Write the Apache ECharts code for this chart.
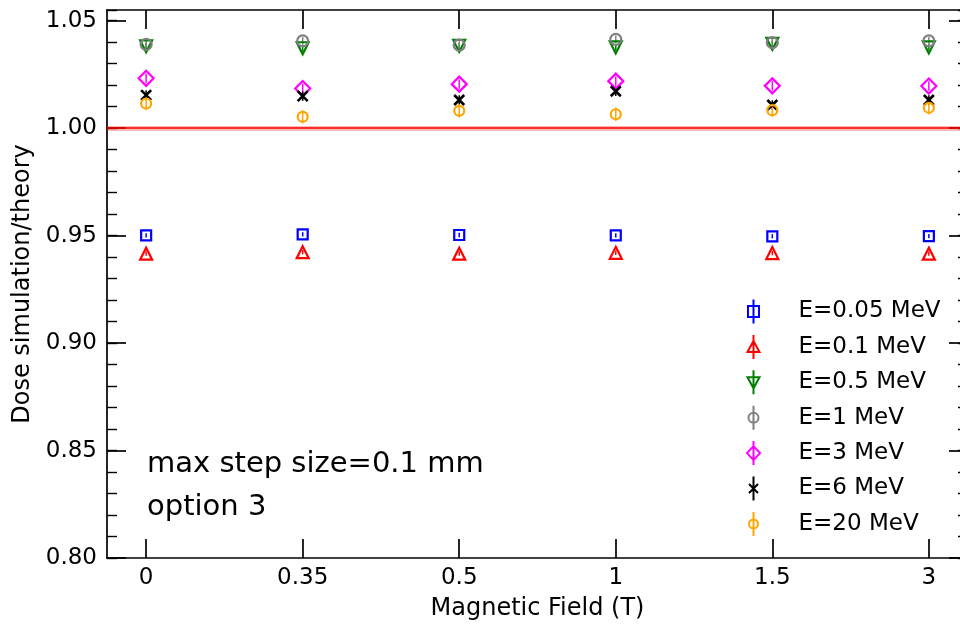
<!DOCTYPE html>
<html>
<head>
<meta charset="utf-8">
<script src="https://cdn.jsdelivr.net/npm/echarts@6/dist/echarts.min.js"></script>
<style>
  html, body { margin: 0; padding: 0; background: #fff; }
  #chart { width: 960px; height: 628px; }
</style>
</head>
<body>
<div id="chart"></div>
<script>
// Magnetic field settings (T), drawn as evenly spaced positions
const fieldLabels = ['0', '0.35', '0.5', '1', '1.5', '3'];

// Dose ratio simulation/theory for each beam energy
const doseE005 = [0.9501, 0.9506, 0.9503, 0.9501, 0.9497, 0.9498];
const doseE01  = [0.9416, 0.9423, 0.9416, 0.9420, 0.9419, 0.9416];
const doseE05  = [1.0381, 1.0372, 1.0383, 1.0376, 1.0393, 1.0376];
const doseE1   = [1.0390, 1.0406, 1.0387, 1.0413, 1.0398, 1.0406];
const doseE3   = [1.0232, 1.0185, 1.0205, 1.0219, 1.0197, 1.0196];
const doseE6   = [1.0154, 1.0149, 1.0131, 1.0172, 1.0108, 1.0131];
const doseE20  = [1.0115, 1.0053, 1.0081, 1.0065, 1.0084, 1.0095];

// Statistical uncertainty (half-length of error bar)
const errE005 = [0.0010, 0.0010, 0.0010, 0.0010, 0.0010, 0.0010];
const errE01  = [0.0010, 0.0010, 0.0010, 0.0010, 0.0010, 0.0010];
const errE05  = [0.0015, 0.0015, 0.0015, 0.0015, 0.0015, 0.0015];
const errE1   = [0.0018, 0.0018, 0.0018, 0.0018, 0.0018, 0.0018];
const errE3   = [0.0022, 0.0022, 0.0022, 0.0022, 0.0022, 0.0022];
const errE6   = [0.0022, 0.0022, 0.0022, 0.0022, 0.0022, 0.0022];
const errE20  = [0.0031, 0.0031, 0.0031, 0.0031, 0.0031, 0.0031];

const seriesNames = ['E=0.05 MeV', 'E=0.1 MeV', 'E=0.5 MeV', 'E=1 MeV', 'E=3 MeV', 'E=6 MeV', 'E=20 MeV'];
const referenceRatio = 1.0;
const yTicks = [0.80, 0.85, 0.90, 0.95, 1.00, 1.05];
const noteLines = ['max step size=0.1 mm', 'option 3'];

const FONT = '"DejaVu Sans", sans-serif';

const xPath = 'path://M0 0L10 10M10 0L0 10';
const styles = [
  { color: '#0000ff', symbol: 'rect', size: 10,
    icon: 'path://M0 0M14 24M1.5 6.5L12.5 6.5L12.5 17.5L1.5 17.5Z M7 0L7 24' },
  { color: '#ff0000', symbol: 'triangle', size: 12, rotate: 0,
    icon: 'path://M0 0M14 24M7 6L13 17L1 17Z M7 0L7 24' },
  { color: '#008000', symbol: 'triangle', size: 12, rotate: 180,
    icon: 'path://M0 0M14 24M1 7L13 7L7 18Z M7 0L7 24' },
  { color: '#808080', symbol: 'circle', size: 11,
    icon: 'path://M0 0M14 24M2 12A5 5 0 1 1 12 12A5 5 0 1 1 2 12Z M7 0L7 24' },
  { color: '#ff00ff', symbol: 'diamond', size: 15,
    icon: 'path://M0 0M14 24M7 5L13.5 12L7 19L0.5 12Z M7 0L7 24' },
  { color: '#000000', symbol: xPath, size: 10,
    icon: 'path://M0 0M14 24M2.5 7.5L11.5 16.5M11.5 7.5L2.5 16.5 M7 0L7 24' },
  { color: '#ffa500', symbol: 'circle', size: 10,
    icon: 'path://M0 0M14 24M2.5 12A4.5 4.5 0 1 1 11.5 12A4.5 4.5 0 1 1 2.5 12Z M7 0L7 24' }
];

const values = [doseE005, doseE01, doseE05, doseE1, doseE3, doseE6, doseE20];
const errors = [errE005, errE01, errE05, errE1, errE3, errE6, errE20];

const series = [];
values.forEach((vals, k) => {
  const st = styles[k];
  // error bars
  series.push({
    type: 'custom',
    name: seriesNames[k],
    xAxisIndex: 0, yAxisIndex: 0,
    silent: true,
    data: vals.map((v, i) => [i, v - errors[k][i], v + errors[k][i]]),
    renderItem: (params, api) => {
      const p0 = api.coord([api.value(0), api.value(1)]);
      const p1 = api.coord([api.value(0), api.value(2)]);
      return {
        type: 'line',
        shape: { x1: p0[0], y1: p0[1], x2: p1[0], y2: p1[1] },
        style: { stroke: st.color, lineWidth: 1.5 }
      };
    }
  });
  // markers
  const s = {
    type: 'scatter',
    name: seriesNames[k],
    xAxisIndex: 0, yAxisIndex: 0,
    symbol: st.symbol,
    symbolSize: st.size,
    symbolRotate: st.rotate || 0,
    itemStyle: { color: 'none', opacity: 1, borderColor: st.color,
                 borderWidth: st.symbol === xPath ? 2.6 : 2.2 },
    emphasis: { disabled: true },
    data: vals.map((v, i) => [i, v])
  };
  if (k === 0) {
    s.markLine = {
      silent: true,
      symbol: 'none',
      label: { show: false },
      data: [
        { yAxis: referenceRatio, lineStyle: { color: 'rgba(255,0,0,0.28)', width: 5, type: 'solid' } },
        { yAxis: referenceRatio, lineStyle: { color: '#ff0000', width: 1.5, type: 'solid' } }
      ]
    };
  }
  series.push(s);
});

const xCommon = {
  type: 'value', min: -0.25, max: 5.25,
  splitLine: { show: false },
  axisLine: { show: true, onZero: false, lineStyle: { color: '#000', width: 1.7 } }
};

const yCommon = {
  type: 'value', min: 0.80, max: 1.055,
  splitLine: { show: false }
};

const option = {
  animation: false,
  backgroundColor: '#fff',
  grid: { left: 107, top: 10, width: 861, height: 548, containLabel: false, outerBoundsMode: 'none' },
  xAxis: [
    Object.assign({}, xCommon, {
      position: 'bottom',
      name: 'Magnetic Field (T)',
      nameLocation: 'middle',
      nameGap: 39,
      nameTextStyle: { fontFamily: FONT, fontSize: 24, color: '#000' },
      axisTick: { show: true, inside: true, length: 19, customValues: [0, 1, 2, 3, 4, 5],
                  lineStyle: { color: '#000', width: 1.7 } },
      axisLabel: { show: true, customValues: [0, 1, 2, 3, 4, 5], margin: 9,
                   fontFamily: FONT, fontSize: 23, color: '#000',
                   formatter: v => fieldLabels[Math.round(v)] }
    }),
    Object.assign({}, xCommon, {
      position: 'top',
      axisTick: { show: true, inside: true, length: 19, customValues: [0, 1, 2, 3, 4, 5],
                  lineStyle: { color: '#000', width: 1.7 } },
      axisLabel: { show: false }
    })
  ],
  yAxis: [
    Object.assign({}, yCommon, {
      position: 'left',
      interval: 0.05,
      name: 'Dose simulation/theory',
      nameLocation: 'middle',
      nameGap: 72,
      nameTextStyle: { fontFamily: FONT, fontSize: 24, color: '#000' },
      axisLine: { show: true, onZero: false, lineStyle: { color: '#000', width: 1.7 } },
      axisTick: { show: true, inside: true, length: 19, customValues: yTicks,
                  lineStyle: { color: '#000', width: 1.7 } },
      axisLabel: { show: true, customValues: yTicks, margin: 10,
                   fontFamily: FONT, fontSize: 23, color: '#000',
                   formatter: v => v.toFixed(2) }
    }),
    Object.assign({}, yCommon, {
      position: 'left',
      interval: 0.01,
      axisLine: { show: false, onZero: false },
      axisTick: { show: true, inside: true, length: 10, lineStyle: { color: '#000', width: 1.4 } },
      axisLabel: { show: false }
    }),
    Object.assign({}, yCommon, {
      position: 'right',
      interval: 0.05,
      axisLine: { show: true, onZero: false, lineStyle: { color: '#000', width: 1.7 } },
      axisTick: { show: true, inside: true, length: 19, customValues: yTicks,
                  lineStyle: { color: '#000', width: 1.7 } },
      axisLabel: { show: false }
    }),
    Object.assign({}, yCommon, {
      position: 'right',
      interval: 0.01,
      axisLine: { show: false, onZero: false },
      axisTick: { show: true, inside: true, length: 10, lineStyle: { color: '#000', width: 1.4 } },
      axisLabel: { show: false }
    })
  ],
  legend: {
    orient: 'vertical',
    left: 739,
    top: 292,
    itemWidth: 14,
    itemHeight: 24,
    itemGap: 6.4,
    selectedMode: false,
    textStyle: { fontFamily: FONT, fontSize: 23, color: '#000', lineHeight: 24, padding: [0, 0, 0, 33] },
    data: seriesNames.map((n, k) => ({
      name: n,
      icon: styles[k].icon,
      itemStyle: { color: 'none', borderColor: styles[k].color, borderWidth: 2 }
    }))
  },
  graphic: noteLines.map((t, i) => ({
    type: 'text',
    x: 147,
    y: 464 + i * 43,
    silent: true,
    style: { text: t, fill: '#000', font: '29px ' + FONT, verticalAlign: 'middle' }
  })),
  series: series
};

const chart = echarts.init(document.getElementById('chart'), null, { renderer: 'canvas' });
chart.setOption(option);
</script>
</body>
</html>
